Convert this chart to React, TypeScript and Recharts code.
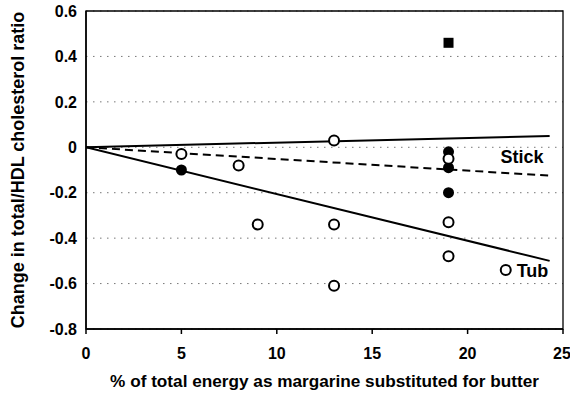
import React from "react";
import {
  ComposedChart,
  Line,
  Scatter,
  XAxis,
  YAxis,
  CartesianGrid,
  ReferenceArea,
  ReferenceDot,
  Label
} from "recharts";

// percent of energy (x) vs change in total/HDL ratio (y)
const openPoints = [
  { x: 5, y: -0.03 },
  { x: 8, y: -0.08 },
  { x: 9, y: -0.34 },
  { x: 13, y: 0.03 },
  { x: 13, y: -0.34 },
  { x: 13, y: -0.61 },
  { x: 19, y: -0.05 },
  { x: 19, y: -0.33 },
  { x: 19, y: -0.48 },
  { x: 22, y: -0.54 }
];

const filledPoints = [
  { x: 5, y: -0.1 },
  { x: 19, y: -0.02 },
  { x: 19, y: -0.09 },
  { x: 19, y: -0.2 }
];

const squarePoints = [{ x: 19, y: 0.46 }];

// fitted lines
const upperFit = [
  { x: 0, y: 0 },
  { x: 24.3, y: 0.05 }
];
const stickFit = [
  { x: 0, y: 0 },
  { x: 24.3, y: -0.125 }
];
const tubFit = [
  { x: 0, y: 0 },
  { x: 24.3, y: -0.5 }
];

const xTicks = [0, 5, 10, 15, 20, 25];
const yTicks = [0.6, 0.4, 0.2, 0, -0.2, -0.4, -0.6, -0.8];

const font = "'Liberation Sans', Arial, Helvetica, sans-serif";

const OpenDot = (p: any) => (
  <circle cx={p.cx} cy={p.cy} r={5} fill="#fff" stroke="#000" strokeWidth={2} />
);
const FilledDot = (p: any) => <circle cx={p.cx} cy={p.cy} r={5.5} fill="#000" />;
const SquareDot = (p: any) => (
  <rect x={p.cx - 5} y={p.cy - 5} width={10} height={10} fill="#000" />
);

const YTitle = () => (
  <text
    x={18}
    y={170}
    transform="rotate(-90 18 170)"
    textAnchor="middle"
    dominantBaseline="central"
    fontFamily={font}
    fontWeight="bold"
    fontSize={18}
    fill="#000"
  >
    Change in total/HDL cholesterol ratio
  </text>
);

export default function App() {
  return (
    <div style={{ position: "absolute", left: 0, top: 0, background: "#fff" }}>
      <ComposedChart
        width={570}
        height={396}
        margin={{ top: 11, right: 7, bottom: 0, left: 0 }}
      >
        <CartesianGrid
          horizontal={true}
          vertical={false}
          stroke="#777"
          strokeDasharray="1.5 5.5"
        />
        <XAxis
          type="number"
          dataKey="x"
          domain={[0, 25]}
          ticks={xTicks}
          allowDataOverflow
          height={67}
          stroke="#000"
          strokeWidth={1.5}
          tickSize={5}
          tickMargin={14}
          tick={{ fill: "#000", fontSize: 16, fontWeight: "bold", fontFamily: font }}
        >
          <Label
            value="% of total energy as margarine substituted for butter"
            position="insideBottom"
            offset={9}
            fill="#000"
            fontSize={17.2}
            fontWeight="bold"
            fontFamily={font}
          />
        </XAxis>
        <YAxis
          type="number"
          dataKey="y"
          domain={[-0.8, 0.6]}
          ticks={yTicks}
          allowDataOverflow
          width={86}
          stroke="#000"
          strokeWidth={1.5}
          tickLine={false}
          tickSize={0}
          tickMargin={9}
          tickFormatter={(v: number) => (v === 0 ? "0" : v.toFixed(1))}
          tick={{ fill: "#000", fontSize: 16, fontWeight: "bold", fontFamily: font }}
        >
          <Label content={<YTitle />} />
        </YAxis>
        <ReferenceArea
          x1={0}
          x2={25}
          y1={-0.8}
          y2={0.6}
          fill="none"
          stroke="#000"
          strokeWidth={1.3}
        />
        <Line
          data={upperFit}
          dataKey="y"
          type="linear"
          stroke="#000"
          strokeWidth={2}
          dot={false}
          activeDot={false}
          isAnimationActive={false}
        />
        <Line
          data={stickFit}
          dataKey="y"
          type="linear"
          stroke="#000"
          strokeWidth={2}
          strokeDasharray="8 5"
          dot={false}
          activeDot={false}
          isAnimationActive={false}
        />
        <Line
          data={tubFit}
          dataKey="y"
          type="linear"
          stroke="#000"
          strokeWidth={2}
          dot={false}
          activeDot={false}
          isAnimationActive={false}
        />
        <Scatter data={filledPoints} shape={FilledDot} isAnimationActive={false} />
        <Scatter data={squarePoints} shape={SquareDot} isAnimationActive={false} />
        <Scatter data={openPoints} shape={OpenDot} isAnimationActive={false} />
        <ReferenceDot x={22.85} y={-0.04} r={0} fill="none" stroke="none">
          <Label
            value="Stick"
            position="center"
            fill="#000"
            fontSize={18}
            fontWeight="bold"
            fontFamily={font}
          />
        </ReferenceDot>
        <ReferenceDot x={23.4} y={-0.545} r={0} fill="none" stroke="none">
          <Label
            value="Tub"
            position="center"
            fill="#000"
            fontSize={18}
            fontWeight="bold"
            fontFamily={font}
          />
        </ReferenceDot>
      </ComposedChart>
    </div>
  );
}
